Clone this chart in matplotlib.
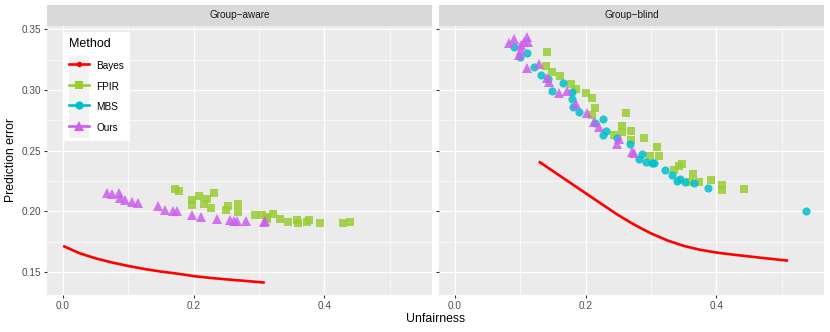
import numpy as np
import matplotlib
matplotlib.use("Agg")
import matplotlib.pyplot as plt
from matplotlib.lines import Line2D
from matplotlib.patches import Rectangle
from matplotlib.legend_handler import HandlerLine2D

plt.rcParams['font.family'] = ['Liberation Sans', 'DejaVu Sans']

# ---- Group-aware panel ----
aware_bayes_x = [0.002, 0.025, 0.05, 0.075, 0.10, 0.125, 0.15, 0.175, 0.20, 0.225, 0.25, 0.275, 0.307]
aware_bayes_y = [0.171, 0.1655, 0.1612, 0.1578, 0.1549, 0.1524, 0.1503, 0.1486, 0.1466, 0.1451, 0.1439, 0.1428, 0.1413]

aware_fpir_x = [0.171, 0.178, 0.197, 0.197, 0.209, 0.216, 0.220, 0.226, 0.231, 0.249, 0.253, 0.268, 0.268,
                0.294, 0.304, 0.312, 0.313, 0.322, 0.332, 0.344, 0.359, 0.360, 0.374, 0.377, 0.393, 0.428, 0.439]
aware_fpir_y = [0.218, 0.217, 0.209, 0.205, 0.213, 0.206, 0.210, 0.203, 0.215, 0.201, 0.204, 0.206, 0.199,
                0.197, 0.197, 0.195, 0.1935, 0.198, 0.1935, 0.1915, 0.193, 0.190, 0.191, 0.193, 0.190, 0.190, 0.191]

aware_ours_x = [0.068, 0.075, 0.085, 0.087, 0.095, 0.105, 0.115, 0.146, 0.156, 0.169, 0.175, 0.198, 0.212,
                0.236, 0.256, 0.262, 0.267, 0.280, 0.307, 0.309]
aware_ours_y = [0.215, 0.214, 0.215, 0.211, 0.209, 0.208, 0.207, 0.204, 0.201, 0.200, 0.200, 0.197, 0.195,
                0.194, 0.193, 0.192, 0.192, 0.192, 0.191, 0.192]

# ---- Group-blind panel ----
blind_bayes_x = [0.130, 0.150, 0.175, 0.200, 0.225, 0.250, 0.275, 0.300, 0.325, 0.350, 0.375, 0.400,
                 0.425, 0.450, 0.475, 0.508]
blind_bayes_y = [0.2404, 0.2331, 0.2240, 0.2149, 0.2058, 0.1968, 0.1888, 0.1818, 0.1760, 0.1715, 0.1683,
                 0.1660, 0.1643, 0.1628, 0.1613, 0.1594]

blind_fpir_x = [0.1405, 0.139, 0.148, 0.161, 0.178, 0.186, 0.200, 0.210, 0.215, 0.210, 0.262, 0.256, 0.256,
                0.270, 0.270, 0.243, 0.290, 0.310, 0.312, 0.299, 0.348, 0.3425, 0.335, 0.365, 0.373, 0.360,
                0.392, 0.409, 0.409, 0.443]
blind_fpir_y = [0.331, 0.320, 0.315, 0.3115, 0.305, 0.3006, 0.2978, 0.2932, 0.285, 0.2794, 0.2813, 0.2703, 0.2657,
                0.2662, 0.2588, 0.2629, 0.2607, 0.2533, 0.2456, 0.2456, 0.239, 0.2374, 0.2341, 0.2308, 0.2245, 0.2245,
                0.2259, 0.2217, 0.2176, 0.2182]

blind_mbs_x = [0.0906, 0.0997, 0.110, 0.121, 0.1313, 0.1425, 0.1491, 0.1654, 0.1786, 0.1786, 0.1812, 0.190,
               0.2137, 0.227, 0.2305, 0.227, 0.2473, 0.2687, 0.2814, 0.2865, 0.2931, 0.3018, 0.3053, 0.3221,
               0.3323, 0.340, 0.344, 0.3527, 0.3664, 0.3868, 0.5374]
blind_mbs_y = [0.3357, 0.3274, 0.3307, 0.3192, 0.3124, 0.3088, 0.2994, 0.3060, 0.2986, 0.2923, 0.2857, 0.2821,
               0.2731, 0.2759, 0.2665, 0.2629, 0.2607, 0.2553, 0.2429, 0.2473, 0.2410, 0.2396, 0.2401, 0.2341,
               0.2300, 0.2250, 0.2267, 0.2245, 0.2231, 0.2195, 0.2006]

blind_ours_x = [0.083, 0.0896, 0.1008, 0.1059, 0.110, 0.112, 0.098, 0.1008, 0.110, 0.1288, 0.1415, 0.144,
                0.159, 0.171, 0.1847, 0.2026, 0.2127, 0.2204, 0.2484, 0.2509, 0.2713, 0.2748]
blind_ours_y = [0.339, 0.3418, 0.3371, 0.3398, 0.3434, 0.3398, 0.3288, 0.333, 0.3179, 0.3214, 0.3096, 0.3068,
                0.2978, 0.2994, 0.2885, 0.2808, 0.2739, 0.2698, 0.2555, 0.2594, 0.2492, 0.2484]

panels = ["Group\u2212aware", "Group\u2212blind"]
methods = ["Bayes", "FPIR", "MBS", "Ours"]
colors = {"Bayes": "#FF0000", "FPIR": "#9ACD32", "MBS": "#00C0CC", "Ours": "#CC5FEE"}
markers = {"Bayes": "o", "FPIR": "s", "MBS": "o", "Ours": "^"}
msizes = {"Bayes": 4, "FPIR": 6.0, "MBS": 5.9, "Ours": 7.4}

panel_data = [
    {"Bayes": (aware_bayes_x, aware_bayes_y), "FPIR": (aware_fpir_x, aware_fpir_y),
     "Ours": (aware_ours_x, aware_ours_y)},
    {"Bayes": (blind_bayes_x, blind_bayes_y), "FPIR": (blind_fpir_x, blind_fpir_y),
     "MBS": (blind_mbs_x, blind_mbs_y), "Ours": (blind_ours_x, blind_ours_y)},
]

W, H = 830, 332
fig = plt.figure(figsize=(W / 100, H / 100), dpi=100)
fig.patch.set_facecolor("white")

panel_px = [(47, 432), (439, 824)]
top_px, bot_px = 26, 295
strip_h = 21

xlim = (-0.0245, 0.565)
ylim = (0.131, 0.3527)

axes = []
for i, (x0, x1) in enumerate(panel_px):
    ax = fig.add_axes([x0 / W, (H - bot_px) / H, (x1 - x0) / W, (bot_px - top_px) / H])
    ax.set_facecolor("#EBEBEB")
    for s in ax.spines.values():
        s.set_visible(False)
    ax.set_xlim(*xlim)
    ax.set_ylim(*ylim)
    ax.set_xticks([0.0, 0.2, 0.4])
    ax.set_xticklabels(["0.0", "0.2", "0.4"])
    ax.set_xticks([0.1, 0.3, 0.5], minor=True)
    ax.set_yticks([0.15, 0.20, 0.25, 0.30, 0.35])
    ax.set_yticks([0.175, 0.225, 0.275, 0.325], minor=True)
    if i == 0:
        ax.set_yticklabels(["0.15", "0.20", "0.25", "0.30", "0.35"])
    else:
        ax.tick_params(axis="y", which="major", length=0, labelleft=False)
    ax.grid(True, which="major", color="white", linewidth=0.9)
    ax.grid(True, which="minor", color="white", linewidth=0.45)
    ax.set_axisbelow(True)
    ax.tick_params(which="major", length=2.4, width=0.8, color="#333333",
                   labelsize=7.2, labelcolor="#4D4D4D", pad=2)
    ax.tick_params(which="minor", length=0)

    # facet strip
    sh = strip_h / (bot_px - top_px)
    ax.add_patch(Rectangle((0, 1), 1, sh, transform=ax.transAxes, facecolor="#D9D9D9",
                           edgecolor="none", clip_on=False))
    ax.text(0.5, 1 + sh / 2, panels[i], transform=ax.transAxes, ha="center", va="center",
            fontsize=7.2, color="#1A1A1A")

    d = panel_data[i]
    bx, by = d["Bayes"]
    ax.plot(bx, by, color=colors["Bayes"], linewidth=1.9, zorder=3, solid_joinstyle="round")
    for m in ["FPIR", "MBS", "Ours"]:
        if m in d:
            mx, my = d[m]
            ax.plot(mx, my, linestyle="none", marker=markers[m], markersize=msizes[m],
                    color=colors[m], alpha=0.85, markeredgewidth=0, zorder=4)
    axes.append(ax)

LABSP = 0.6


class KeyHandler(HandlerLine2D):
    def create_artists(self, legend, orig_handle, xdescent, ydescent, width, height, fontsize, trans):
        arts = super().create_artists(legend, orig_handle, xdescent, ydescent, width, height, fontsize, trans)
        pad = LABSP * fontsize / 2
        bg = Rectangle((-xdescent, -ydescent - pad), width, height + 2 * pad, facecolor="#F2F2F2",
                       edgecolor="none", transform=trans)
        return [bg] + list(arts)


handles = []
for m in methods:
    handles.append(Line2D([], [], color=colors[m], linewidth=1.9, marker=markers[m],
                          markersize=msizes[m] if m != "Bayes" else 4, markeredgewidth=0))

ax0 = axes[0]
leg = ax0.legend(handles, methods, title="Method", loc="upper left",
                 bbox_to_anchor=(16 / 385, (bot_px - 32) / (bot_px - top_px)),
                 borderaxespad=0, fontsize=7.2, title_fontsize=9, frameon=True,
                 fancybox=False, handlelength=1.95, handleheight=1.85, labelspacing=LABSP,
                 handletextpad=0.8, borderpad=0.6, numpoints=1,
                 handler_map={Line2D: KeyHandler()})
leg.get_frame().set_facecolor("white")
leg.get_frame().set_edgecolor("none")
leg.get_frame().set_alpha(1)
leg._legend_box.align = "left"
leg._legend_box.sep = 6.5
leg.get_title().set_color("#000000")

fig.text(436 / W, 1 - 319 / H, "Unfairness", ha="center", va="center", fontsize=8.8)
fig.text(11 / W, 1 - 160 / H, "Prediction error", ha="center", va="center", rotation=90, fontsize=8.8)

fig.savefig("out.png", dpi=100)
